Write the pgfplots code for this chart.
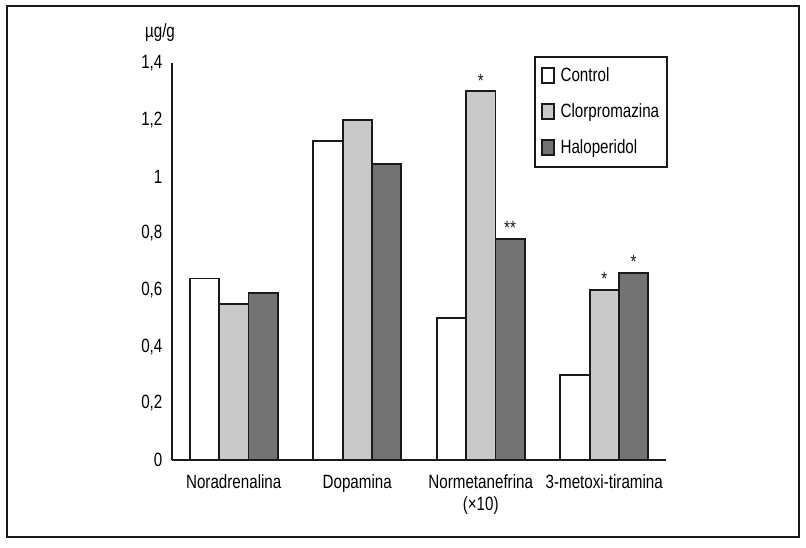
\documentclass[border=0pt]{standalone}
\usepackage{fontspec}
\setmainfont{Liberation Sans}[FakeStretch=0.79]
\usepackage{pgfplots}
\pgfplotsset{compat=1.18}
\definecolor{clor}{RGB}{201,201,201}
\definecolor{halo}{RGB}{115,115,115}
\definecolor{ink}{RGB}{26,26,26}
\begin{document}
\fontsize{19.2}{22}\selectfont
\begin{tikzpicture}
\useasboundingbox (0,0) rectangle (806pt,-548pt);
\draw[ink, line width=1.2pt] (7pt,-6pt) rectangle (799pt,-537pt);
\begin{axis}[
  at={(172pt,-460pt)}, anchor=south west,
  scale only axis, width=494pt, height=397pt,
  xmin=-0.5, xmax=3.5, ymin=0, ymax=1.4,
  axis lines*=left,
  axis line style={ink, line width=2pt},
  ybar=0pt, bar width=29.3pt,
  xtick={0,1,2,3},
  xticklabels={Noradrenalina, Dopamina, {Normetanefrina\\(×10)}, 3-metoxi-tiramina},
  xticklabel style={align=center, yshift=-8pt, text depth=0pt},
  ytick={0,0.2,0.4,0.6,0.8,1,1.2,1.4},
  yticklabel style={xshift=-3pt},
  major tick length=0pt,
  /pgf/number format/use comma,
  /pgf/number format/assume math mode=true,
  point meta=explicit symbolic,
  nodes near coords,
  nodes near coords style={anchor=south, inner sep=0pt, yshift=3pt, text=ink},
  clip=false,
  legend cell align=left,
  legend style={at={(rel axis cs:1,1)}, anchor=north east, xshift=2pt, yshift=7pt,
    draw=ink, line width=1.6pt, row sep=15pt, inner xsep=6pt, inner ysep=9pt,
    /tikz/every odd column/.append style={column sep=4pt}},
  every axis plot/.append style={draw=ink, line width=1.8pt,
    legend image code/.code={\draw[##1] (0pt,-7pt) rectangle (12pt,8pt);}},
]
\addplot[fill=white] coordinates {(0,0.64) [] (1,1.125) [] (2,0.50) [] (3,0.30) []};
\addplot[fill=clor] coordinates {(0,0.55) [] (1,1.20) [] (2,1.30) [*] (3,0.60) [*]};
\addplot[fill=halo] coordinates {(0,0.59) [] (1,1.045) [] (2,0.78) [**] (3,0.66) [*]};
\legend{Control, Clorpromazina, Haloperidol}
\node at (rel axis cs:0,1) [xshift=-12pt, yshift=30pt] {µg/g};
\end{axis}
\end{tikzpicture}
\end{document}
